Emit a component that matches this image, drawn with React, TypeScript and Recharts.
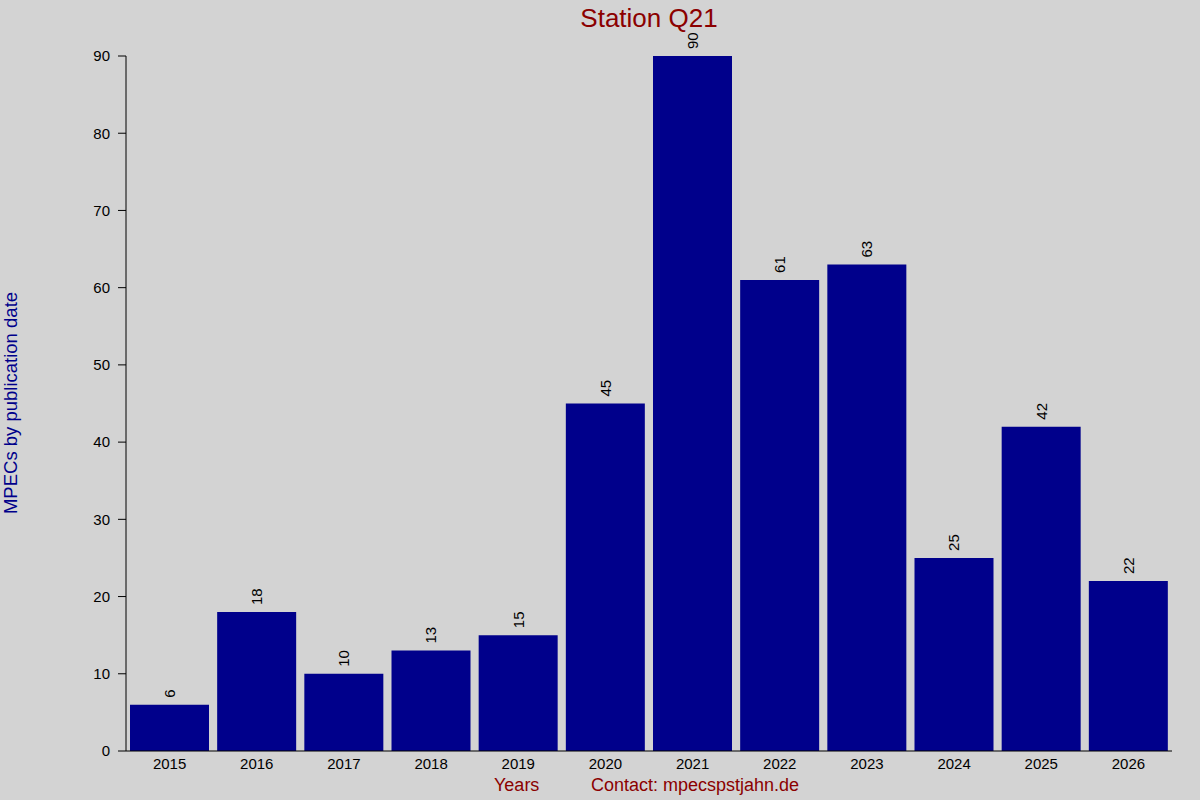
import { Bar, BarChart, LabelList, XAxis, YAxis } from "recharts";

const years = ["2015", "2016", "2017", "2018", "2019", "2020", "2021", "2022", "2023", "2024", "2025", "2026"];
const mpecs = [6, 18, 10, 13, 15, 45, 90, 61, 63, 25, 42, 22];
const yTicks = [0, 10, 20, 30, 40, 50, 60, 70, 80, 90];

const data = years.map((year, i) => ({ year, count: mpecs[i] }));

const font = "'Liberation Sans', Arial, sans-serif";

// rotated value above each bar
const ValueLabel = (props: any) => {
  const { x, y, width, value } = props;
  const cx = Number(x) + Number(width) / 2;
  const ty = Number(y) - 7;
  return (
    <text
      x={cx}
      y={ty}
      transform={`rotate(-90, ${cx}, ${ty})`}
      textAnchor="start"
      dominantBaseline="central"
      fontSize={15}
      fontFamily={font}
      fill="#000"
    >
      {value}
    </text>
  );
};

export default function App() {
  return (
    <div
      style={{
        position: "absolute",
        left: 0,
        top: 0,
        width: 1200,
        height: 800,
        background: "#d3d3d3",
        fontFamily: font,
        overflow: "hidden",
      }}
    >
      <BarChart
        width={1200}
        height={800}
        data={data}
        margin={{ top: 56, right: 28, bottom: 19, left: 66 }}
        barCategoryGap={4}
      >
        <XAxis
          xAxisId="top"
          orientation="top"
          dataKey="year"
          height={0}
          axisLine={false}
          tick={() => <g />}
          tickSize={1}
          tickLine={{ stroke: "#000" }}
        />
        <XAxis
          dataKey="year"
          height={30}
          tickLine={false}
          axisLine={{ stroke: "#000" }}
          tick={{ fill: "#000", fontSize: 15, fontFamily: font }}
          tickMargin={1}
        />
        <YAxis
          width={60}
          domain={[0, 90]}
          ticks={yTicks}
          interval={0}
          tickSize={8}
          tickMargin={8}
          axisLine={{ stroke: "#000" }}
          tickLine={{ stroke: "#000" }}
          tick={{ fill: "#000", fontSize: 15, fontFamily: font }}
        />
        <Bar dataKey="count" fill="#00008b" isAnimationActive={false}>
          <LabelList dataKey="count" content={ValueLabel} />
        </Bar>
      </BarChart>
      <div
        style={{
          position: "absolute",
          left: 126,
          width: 1046,
          top: 3,
          textAlign: "center",
          fontSize: 26,
          color: "#8b0000",
        }}
      >
        Station Q21
      </div>
      <div
        style={{
          position: "absolute",
          left: 11,
          top: 403,
          transform: "translate(-50%, -50%) rotate(-90deg)",
          whiteSpace: "nowrap",
          fontSize: 18.5,
          lineHeight: "20px",
          color: "#00008b",
        }}
      >
        MPECs by publication date
      </div>
      <div
        style={{
          position: "absolute",
          left: 494,
          top: 775,
          fontSize: 18,
          color: "#8b0000",
          whiteSpace: "nowrap",
        }}
      >
        Years
      </div>
      <div
        style={{
          position: "absolute",
          left: 591,
          top: 775,
          fontSize: 18,
          color: "#8b0000",
          whiteSpace: "nowrap",
        }}
      >
        Contact: mpecspstjahn.de
      </div>
    </div>
  );
}
